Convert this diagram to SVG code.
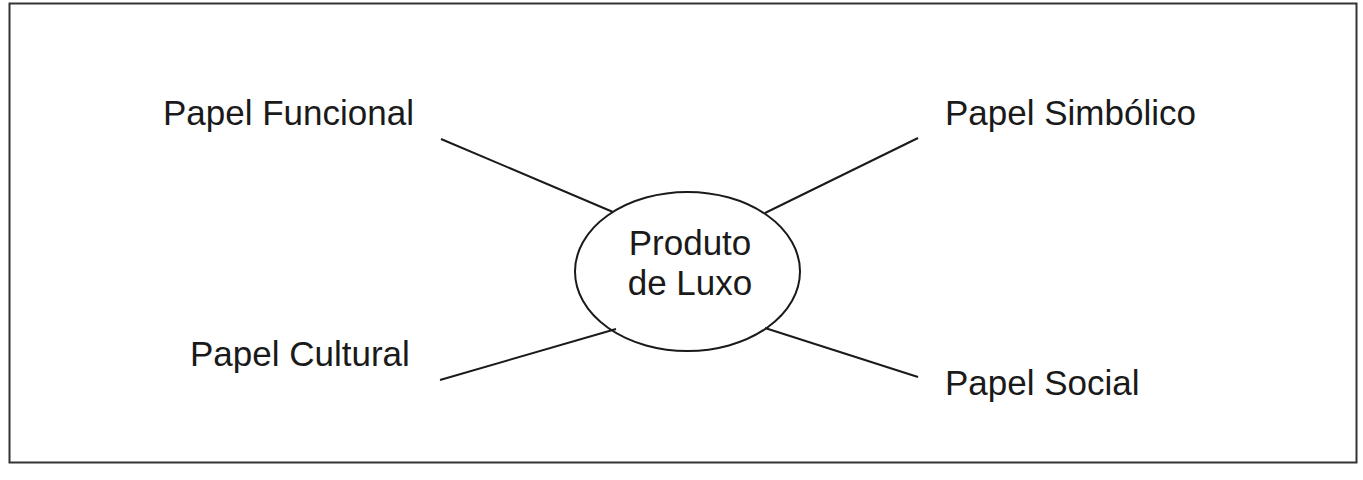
<svg xmlns="http://www.w3.org/2000/svg" width="1363" height="480" viewBox="0 0 1363 480">
<style>
text{font-family:"Liberation Sans",Arial,sans-serif;font-size:35px;fill:#1a1a1a}
.ln{stroke:#1a1a1a;stroke-width:2;fill:none}
</style>
<rect x="9.5" y="3.5" width="1347" height="459" fill="#fff" stroke="#333" stroke-width="2"/>
<g id="connectors">
<line class="ln" x1="441" y1="139" x2="613" y2="212"/>
<line class="ln" x1="918" y1="138" x2="765" y2="213"/>
<line class="ln" x1="440" y1="380" x2="616" y2="329"/>
<line class="ln" x1="918" y1="377" x2="765" y2="328"/>
</g>
<g id="center">
<ellipse class="ln" cx="687.5" cy="271.5" rx="112.5" ry="79.5"/>
<text x="690" y="255" text-anchor="middle">Produto</text>
<text x="690" y="295" text-anchor="middle">de Luxo</text>
</g>
<g id="funcional"><text x="163" y="125">Papel Funcional</text></g>
<g id="simbolico"><text x="945" y="125">Papel Simbólico</text></g>
<g id="cultural"><text x="190" y="366">Papel Cultural</text></g>
<g id="social"><text x="945" y="395">Papel Social</text></g>
</svg>
